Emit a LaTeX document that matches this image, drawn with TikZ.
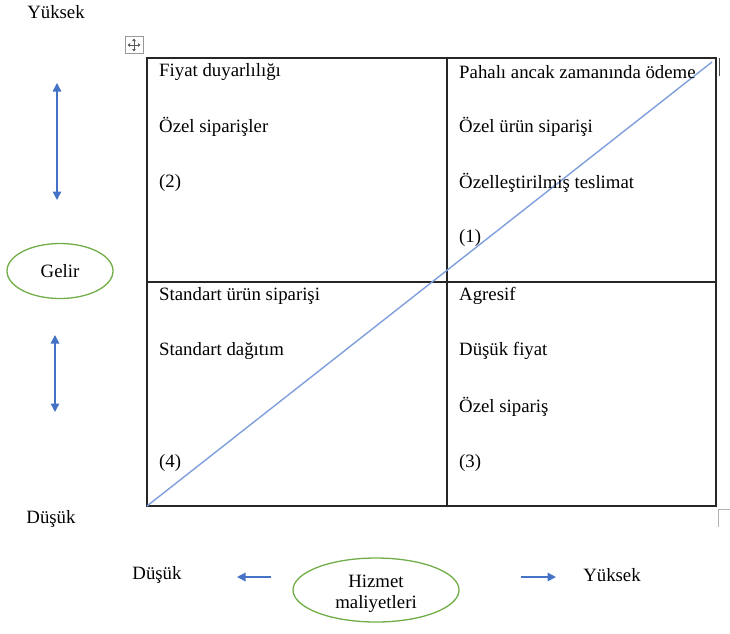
\documentclass[tikz,border=0pt]{standalone}
\usepackage{fontspec}
\setmainfont{Liberation Serif}
\usetikzlibrary{arrows.meta,shapes.geometric}
\definecolor{arrowblue}{HTML}{4472C4}
\definecolor{diagblue}{HTML}{7F9FDC}
\definecolor{ovalgreen}{HTML}{70AD47}
\begin{document}
\begin{tikzpicture}[x=1pt,y=-1pt,
  every node/.style={font=\fontsize{18.8}{21}\selectfont, inner sep=0pt},
  celltext/.style={anchor=west},
  grid/.style={line width=1.2pt, black!85},
  oval/.style={ellipse, draw=ovalgreen, line width=1.3pt, align=center},
  axisarrow/.style={arrowblue, line width=1.4pt, -{Triangle[length=8.5pt,width=8.5pt]}},
  bothway/.style={arrowblue, line width=1.4pt, {Triangle[length=8.5pt,width=8.5pt]}-{Triangle[length=8.5pt,width=8.5pt]}}]
\useasboundingbox (0,0) rectangle (730,633);

% matrix frame
\coordinate (tl) at (147,58);
\coordinate (br) at (716,506);
\draw[grid] (tl) rectangle (br);
\draw[grid] (447,58) -- (447,506);
\draw[grid] (147,282) -- (716,282);
\draw[line width=1pt, black!70] (719,58) -- (719,76);

% diagonal trend line
\coordinate (d0) at (147,506);
\coordinate (d1) at (712,62);
\draw[diagblue, line width=1.4pt] (d0) -- (d1);

% table handles
\node[draw=black!40, line width=0.7pt, minimum width=18pt, minimum height=17pt] (handle) at (134,45) {};
\foreach \dx/\dy in {0/-6.5,0/6.5,-6.5/0,6.5/0}
  \draw[black!65, line width=0.7pt, -{Triangle[length=2.5pt,width=3.5pt]}] (handle.center) -- ++(\dx,\dy);
\draw[black!30, line width=1pt] (718,509) -- (718,527) (718,509) -- (730,509);

% quadrant texts
\node[celltext] (a1) at (159,72) {Fiyat duyarlılığı};
\node[celltext] (a2) at (159,127) {Özel siparişler};
\node[celltext] (a3) at (159,183) {(2)};

\node[celltext] (b1) at (459,72) {Pahalı ancak zamanında ödeme};
\node[celltext] (b2) at (459,127) {Özel ürün siparişi};
\node[celltext] (b3) at (459,183) {Özelleştirilmiş teslimat};
\node[celltext] (b4) at (459,238) {(1)};

\node[celltext] (c1) at (159,296) {Standart ürün siparişi};
\node[celltext] (c2) at (159,351) {Standart dağıtım};
\node[celltext] (c3) at (159,463) {(4)};

\node[celltext] (e1) at (459,296) {Agresif};
\node[celltext] (e2) at (459,351) {Düşük fiyat};
\node[celltext] (e3) at (459,407) {Özel sipariş};
\node[celltext] (e4) at (459,463) {(3)};

% vertical axis
\node (ytop) at (56,12) {Yüksek};
\node (ybot) at (51,519) {Düşük};
\node[oval, minimum width=106pt, minimum height=55pt] (gelir) at (60,271) {Gelir};
\coordinate (u0) at (57,83);
\coordinate (u1) at (57,200);
\coordinate (l0) at (55,335);
\coordinate (l1) at (55,412);
\draw[bothway] (u0) -- (u1);
\draw[bothway] (l0) -- (l1);

% horizontal axis
\node (xlow) at (157,575) {Düşük};
\node (xhigh) at (612,575) {Yüksek};
\node[oval, minimum width=166pt, minimum height=64pt] (cost) at (376,590) {};
\node[align=center, font=\fontsize{18.8}{20.5}\selectfont] (costtext) at (376,594) {Hizmet\\maliyetleri};
\coordinate (h0) at (271,577);
\coordinate (h1) at (237,577);
\coordinate (k0) at (521,577);
\coordinate (k1) at (556,577);
\draw[axisarrow] (h0) -- (h1);
\draw[axisarrow] (k0) -- (k1);
\end{tikzpicture}
\end{document}
